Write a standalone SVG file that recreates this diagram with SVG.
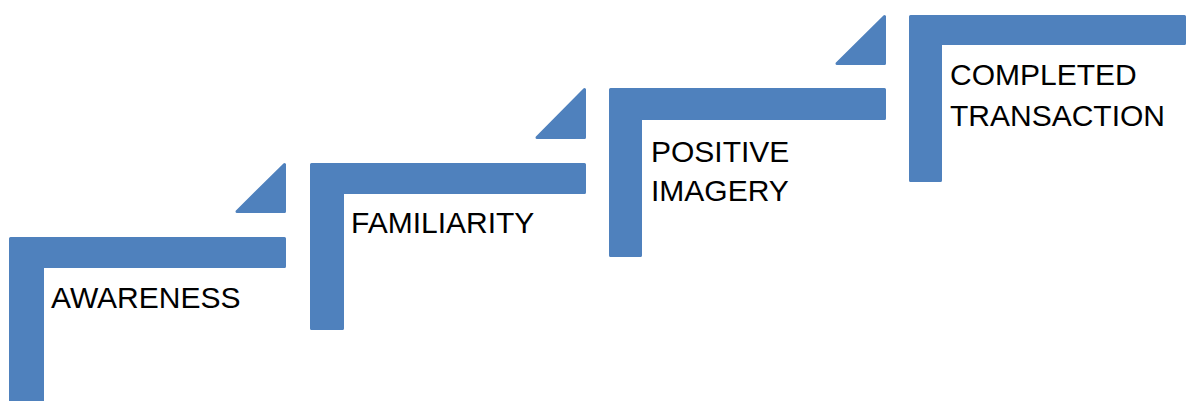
<svg xmlns="http://www.w3.org/2000/svg" width="1187" height="401" viewBox="0 0 1187 401">
<style>
.shape{fill:#4F81BD;stroke:#4F81BD;stroke-width:3;stroke-linejoin:round}
.lbl{font-family:"Liberation Sans",Arial,sans-serif;font-size:30px;fill:#000}
</style>
<rect width="1187" height="401" fill="#fff"/>
<g id="step1">
<path class="shape" d="M10.5,238.5 H284.5 V266.5 H42.5 V404 H10.5 Z"/>
<text class="lbl" x="51" y="308">AWARENESS</text>
</g>
<g id="arrow1"><path class="shape" d="M237,211.5 L284.5,164.5 V211.5 Z"/></g>
<g id="step2">
<path class="shape" d="M311.5,164.5 H584.5 V192.5 H342.5 V328.5 H311.5 Z"/>
<text class="lbl" x="351" y="233">FAMILIARITY</text>
</g>
<g id="arrow2"><path class="shape" d="M537,137.5 L584.5,89.5 V137.5 Z"/></g>
<g id="step3">
<path class="shape" d="M610.5,89.5 H884.5 V118.5 H640.5 V255.5 H610.5 Z"/>
<text class="lbl" x="651" y="162">POSITIVE</text>
<text class="lbl" x="651" y="201">IMAGERY</text>
</g>
<g id="arrow3"><path class="shape" d="M837,63.5 L884.5,16.5 V63.5 Z"/></g>
<g id="step4">
<path class="shape" d="M910.5,16.5 H1184.5 V43.5 H940.5 V180.5 H910.5 Z"/>
<text class="lbl" x="950" y="85">COMPLETED</text>
<text class="lbl" x="950" y="126">TRANSACTION</text>
</g>
<g id="connectors"/>
</svg>
